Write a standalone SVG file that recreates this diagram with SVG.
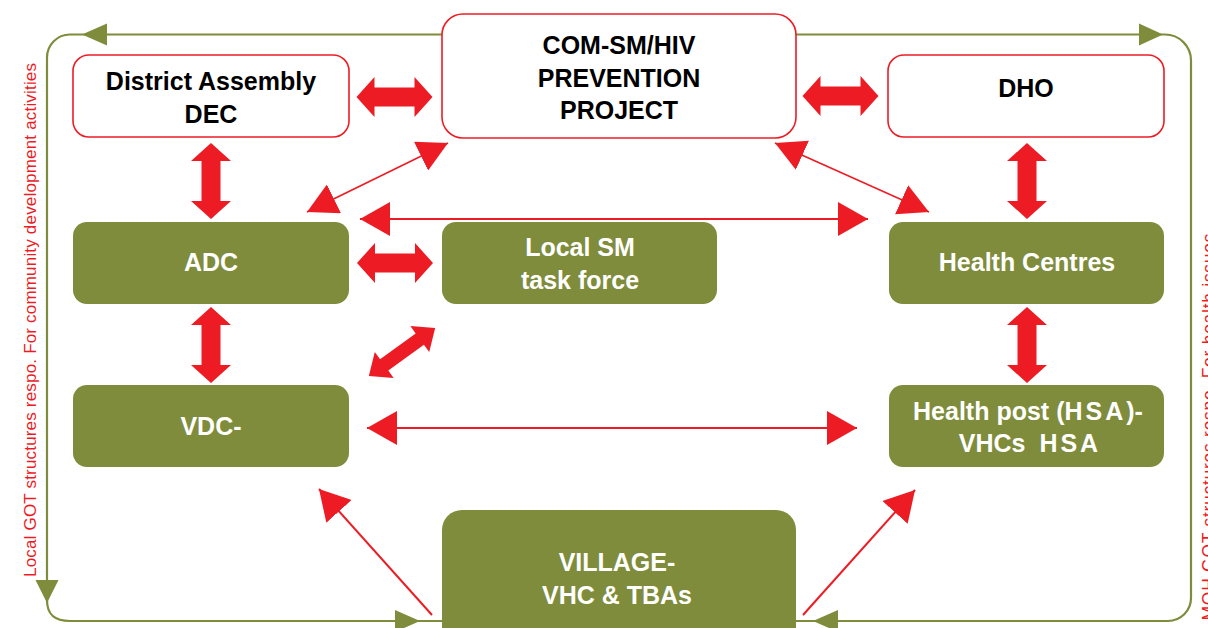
<svg xmlns="http://www.w3.org/2000/svg" xmlns:xlink="http://www.w3.org/1999/xlink" width="1208" height="628" viewBox="0 0 1208 628">
  <style>
    .wbox { fill: #ffffff; stroke: #ed1c24; stroke-width: 1.6; }
    .gbox { fill: #7f8c3b; stroke: none; }
    .btxt { font-family: "Liberation Sans", Arial, sans-serif; font-weight: bold; font-size: 25px; fill: #000000; text-anchor: middle; }
    .gtxt { font-family: "Liberation Sans", Arial, sans-serif; font-weight: bold; font-size: 25px; fill: #ffffff; text-anchor: middle; }
    .side { font-family: "Liberation Sans", Arial, sans-serif; font-size: 17px; fill: #ed1c24; text-anchor: middle; }
    .loop { fill: none; stroke: #7f8c3b; stroke-width: 2.2; }
    .ghead { fill: #7f8c3b; }
    .thin { fill: none; stroke: #ed1c24; stroke-width: 2; }
    .block { fill: #ed1c24; }
  </style>
  <defs>
    <marker id="tip" viewBox="0 0 30 34" refX="30" refY="17" markerWidth="30" markerHeight="34" markerUnits="userSpaceOnUse" orient="auto-start-reverse">
      <path d="M0,0 L30,17 L0,34 Z" fill="#ed1c24"/>
    </marker>
    <marker id="tipS" viewBox="0 0 30 32" refX="30" refY="16" markerWidth="30" markerHeight="32" markerUnits="userSpaceOnUse" orient="auto-start-reverse">
      <path d="M0,0 L30,16 L0,32 Z" fill="#ed1c24"/>
    </marker>
    <path id="dbl" d="M-38,0 L-20,-20 L-20,-9.5 L20,-9.5 L20,-20 L38,0 L20,20 L20,9.5 L-20,9.5 L-20,20 Z"/>
    <path id="dblS" d="M-41,0 L-22,-16 L-22,-7 L22,-7 L22,-16 L41,0 L22,16 L22,7 L-22,7 L-22,16 Z"/>
  </defs>

  <rect width="1208" height="628" fill="#ffffff"/>

  <!-- outer reporting loops and side captions -->
  <g id="loops">
    <path class="loop" d="M442,34.5 H70 A23,23 0 0 0 47,57.5 V600 C47,615 55,621 70,621 H442"/>
    <path class="loop" d="M796,34.5 H1165 A26,26 0 0 1 1191,60.5 V598 A23,23 0 0 1 1168,621 H796"/>
    <polygon class="ghead" points="82,34.5 107,23.5 107,45.5"/>
    <polygon class="ghead" points="47,603 35.5,580 58.5,580"/>
    <polygon class="ghead" points="420,621 395,610 395,632"/>
    <polygon class="ghead" points="1163,34.5 1139,23.5 1139,45.5"/>
    <polygon class="ghead" points="813,621 838,610 838,632"/>
    <text class="side" transform="translate(36,320) rotate(-90)" textLength="514" lengthAdjust="spacing">Local GOT structures respo. For community development activities</text>
    <text class="side" style="font-size:17.5px" transform="translate(1215,427) rotate(-90)" textLength="387" lengthAdjust="spacing">MOH GOT structures respo. For health issues</text>
  </g>

  <!-- connectors -->
  <g id="connectors">
    <path class="thin" d="M360,219 H868" marker-start="url(#tip)" marker-end="url(#tip)"/>
    <path class="thin" d="M367,428 H857" marker-start="url(#tip)" marker-end="url(#tip)"/>
    <path class="thin" style="stroke-width:1.6" d="M448,143 L307,212" marker-start="url(#tipS)" marker-end="url(#tipS)"/>
    <path class="thin" style="stroke-width:1.6" d="M775,143 L929,212" marker-start="url(#tipS)" marker-end="url(#tipS)"/>
    <path class="thin" d="M432,615 L319,489" marker-end="url(#tip)"/>
    <path class="thin" d="M803,615 L915,490" marker-end="url(#tip)"/>
    <use href="#dbl" class="block" transform="translate(394.5,97)"/>
    <use href="#dbl" class="block" transform="translate(840.5,96)"/>
    <use href="#dbl" class="block" transform="translate(211,181) rotate(90)"/>
    <use href="#dbl" class="block" transform="translate(1027,181) rotate(90)"/>
    <use href="#dbl" class="block" transform="translate(211,345) rotate(90)"/>
    <use href="#dbl" class="block" transform="translate(1027,345) rotate(90)"/>
    <use href="#dbl" class="block" transform="translate(395,263)"/>
    <use href="#dblS" class="block" transform="translate(402,352) rotate(-36)"/>
  </g>

  <g id="district-assembly">
    <rect class="wbox" x="73" y="55" width="276" height="82" rx="16"/>
    <text class="btxt" x="211" y="90">District Assembly</text>
    <text class="btxt" x="211" y="123">DEC</text>
  </g>

  <g id="com-sm-project">
    <rect class="wbox" x="442" y="14" width="354" height="124" rx="21"/>
    <text class="btxt" x="619" y="54">COM-SM/HIV</text>
    <text class="btxt" x="619" y="87">PREVENTION</text>
    <text class="btxt" x="619" y="119">PROJECT</text>
  </g>

  <g id="dho">
    <rect class="wbox" x="888" y="55" width="276" height="82" rx="16"/>
    <text class="btxt" x="1026" y="97">DHO</text>
  </g>

  <g id="adc">
    <rect class="gbox" x="73" y="222" width="276" height="82" rx="14"/>
    <text class="gtxt" x="211" y="271">ADC</text>
  </g>

  <g id="local-sm-task-force">
    <rect class="gbox" x="442" y="222" width="275" height="82" rx="14"/>
    <text class="gtxt" x="580" y="256">Local SM</text>
    <text class="gtxt" x="580" y="289">task force</text>
  </g>

  <g id="health-centres">
    <rect class="gbox" x="889" y="222" width="275" height="82" rx="14"/>
    <text class="gtxt" x="1027" y="271">Health Centres</text>
  </g>

  <g id="vdc">
    <rect class="gbox" x="73" y="385" width="276" height="82" rx="14"/>
    <text class="gtxt" x="211" y="435">VDC-</text>
  </g>

  <g id="health-post">
    <rect class="gbox" x="889" y="385" width="275" height="82" rx="14"/>
    <text class="gtxt" x="1028" y="420">Health post (<tspan letter-spacing="3">HSA</tspan>)-</text>
    <text class="gtxt" x="1030" y="452" xml:space="preserve">VHCs  <tspan letter-spacing="3">HSA</tspan></text>
  </g>

  <g id="village">
    <rect class="gbox" x="442" y="510" width="354" height="140" rx="20"/>
    <text class="gtxt" x="617" y="571">VILLAGE-</text>
    <text class="gtxt" x="617" y="604">VHC &amp; TBAs</text>
  </g>
</svg>
